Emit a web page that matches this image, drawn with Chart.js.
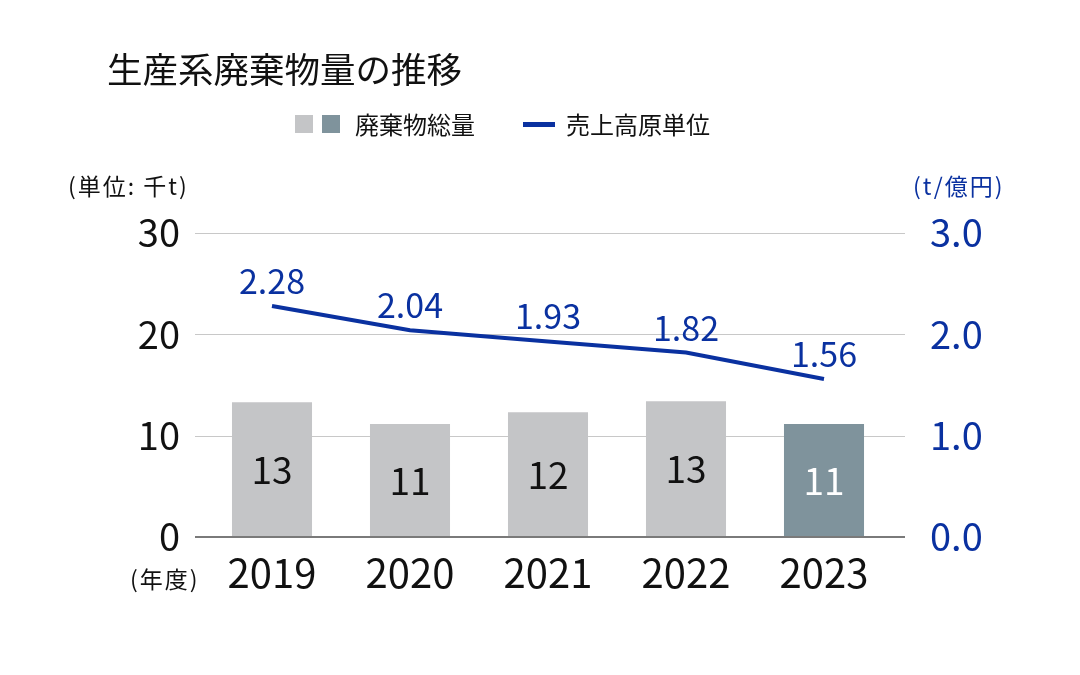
<!DOCTYPE html>
<html lang="ja">
<head>
<meta charset="utf-8">
<script src="https://cdn.jsdelivr.net/npm/chart.js@4"></script>
<style>
  html,body{ margin:0; padding:0; background:#fff; }
  #wrap{ position:relative; width:1080px; height:675px; font-family:"Noto Sans CJK JP","Noto Sans",sans-serif; color:#111; }
  #wrap canvas{ position:absolute; left:0; top:0; }
  .txt{ position:absolute; white-space:nowrap; transform:translateY(-50%); line-height:1; }
  .sq{ position:absolute; width:18px; height:18px; }
</style>
</head>
<body>
<div id="wrap">
  <canvas id="c" width="1080" height="675"></canvas>
  <div class="txt" style="left:107px;top:68px;font-size:35.5px;">生産系廃棄物量の推移</div>
  <div class="sq" style="left:295px;top:115px;background:#c4c5c7;"></div>
  <div class="sq" style="left:322px;top:115px;background:#7f939c;"></div>
  <div class="txt" style="left:355px;top:124px;font-size:24px;">廃棄物総量</div>
  <div style="position:absolute;left:523px;top:122px;width:32px;height:5px;background:#0a31a0;"></div>
  <div class="txt" style="left:566px;top:124px;font-size:24px;">売上高原単位</div>
  <div class="txt" style="left:68px;top:185px;font-size:23px;letter-spacing:2px;">(単位:&nbsp;千t)</div>
  <div class="txt" style="left:913px;top:185px;font-size:23px;letter-spacing:2px;color:#0a31a0;">(t/億円)</div>
  <div class="txt" style="left:130px;top:578px;font-size:23px;letter-spacing:2px;">(年度)</div>
</div>
<script>
// data
const years = ['2019','2020','2021','2022','2023'];
const wasteTotal = [13.3, 11.15, 12.3, 13.4, 11.15];   // 千t
const wasteLabels = ['13','11','12','13','11'];
const unitRate = [2.28, 2.04, 1.93, 1.82, 1.56];       // t/億円

const barColors = ['#c4c5c7','#c4c5c7','#c4c5c7','#c4c5c7','#7f939c'];
const BLUE = '#0a31a0';
const NUMFONT = '"Noto Sans CJK JP","Noto Sans",sans-serif';

// horizontal grid lines, a bit wider than the plot area
const gridPlugin = {
  id:'grid',
  beforeDatasetsDraw(chart){
    const {ctx, chartArea:a, scales:{y}} = chart;
    const x0 = a.left - 8, x1 = a.right + 12;
    ctx.save();
    [10,20,30].forEach(v=>{
      const py = Math.round(y.getPixelForValue(v)) + 0.5;
      ctx.strokeStyle = '#c8c8c8'; ctx.lineWidth = 1;
      ctx.beginPath(); ctx.moveTo(x0, py); ctx.lineTo(x1, py); ctx.stroke();
    });
    ctx.restore();
  },
  afterDatasetsDraw(chart){
    const {ctx, chartArea:a, scales:{y}} = chart;
    const py = y.getPixelForValue(0);
    ctx.save();
    ctx.strokeStyle = '#7a7a7a'; ctx.lineWidth = 2;
    ctx.beginPath(); ctx.moveTo(a.left - 8, py); ctx.lineTo(a.right + 12, py); ctx.stroke();
    ctx.restore();
  }
};

// value labels
const labelPlugin = {
  id:'labels',
  afterDatasetsDraw(chart){
    const ctx = chart.ctx;
    ctx.save();
    ctx.textAlign = 'center';
    ctx.textBaseline = 'middle';
    ctx.font = '37px ' + NUMFONT;
    chart.getDatasetMeta(0).data.forEach((el,i)=>{
      ctx.fillStyle = i===4 ? '#ffffff' : '#111111';
      ctx.fillText(wasteLabels[i], el.x, (el.y + el.base)/2);
    });
    ctx.font = '34px ' + NUMFONT;
    ctx.fillStyle = BLUE;
    ctx.textBaseline = 'alphabetic';
    chart.getDatasetMeta(1).data.forEach((el,i)=>{
      ctx.fillText(unitRate[i].toFixed(2), el.x, el.y - 12);
    });
    ctx.restore();
  }
};

new Chart(document.getElementById('c'), {
  data:{
    labels: years,
    datasets:[
      { type:'bar', label:'廃棄物総量', data: wasteTotal, backgroundColor: barColors,
        barPercentage:0.58, categoryPercentage:1, yAxisID:'y', order:2 },
      { type:'line', label:'売上高原単位', data: unitRate, borderColor: BLUE, borderWidth:4,
        pointRadius:0, tension:0, yAxisID:'y1', order:1 }
    ]
  },
  options:{
    responsive:false,
    animation:false,
    layout:{ padding:{ top:233, left:0, right:0, bottom:0 } },
    plugins:{ legend:{ display:false }, tooltip:{ enabled:false } },
    scales:{
      x:{
        grid:{ display:false, drawTicks:false }, border:{ display:false },
        ticks:{ color:'#111', font:{ family:NUMFONT, size:40 }, padding:12 },
        afterFit(s){ s.height = 138; }
      },
      y:{
        position:'left', min:0, max:30,
        grid:{ display:false, drawTicks:false }, border:{ display:false },
        ticks:{ stepSize:10, color:'#111', font:{ family:NUMFONT, size:38 }, padding:23 },
        afterFit(s){ s.width = 203; }
      },
      y1:{
        position:'right', min:0, max:3,
        grid:{ display:false, drawTicks:false }, border:{ display:false },
        ticks:{ stepSize:1, color:BLUE, font:{ family:NUMFONT, size:38 }, padding:37,
          callback:(v)=> Number(v).toFixed(1) },
        afterFit(s){ s.width = 187; }
      }
    }
  },
  plugins:[gridPlugin, labelPlugin]
});
</script>
</body>
</html>
